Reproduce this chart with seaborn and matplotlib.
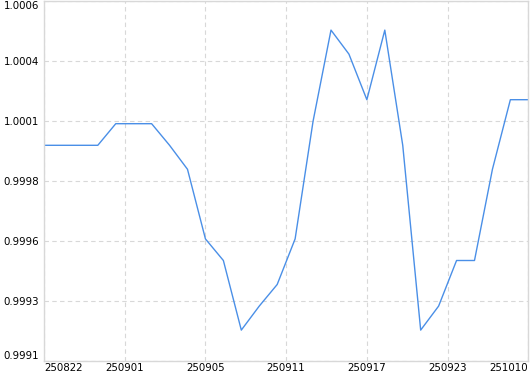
import numpy as np
import pandas as pd
import matplotlib
matplotlib.use("Agg")
import matplotlib.pyplot as plt
import seaborn as sns

values = [1.00000, 1.00000, 1.00000, 1.00000, 1.00009, 1.00009, 1.00009, 1.00000,
          0.99990, 0.99961, 0.99952, 0.99923, 0.99933, 0.99942, 0.99961, 1.00010,
          1.00048, 1.00038, 1.00019, 1.00048, 1.00000, 0.99923, 0.99933, 0.99952,
          0.99952, 0.99990, 1.00019, 1.00019]
x_labels = ["250822", "250901", "250905", "250911", "250917", "250923", "251010"]
y_ticks = [0.99910, 0.99935, 0.99960, 0.99985, 1.00010, 1.00035, 1.00060]
y_labels = ["0.9991", "0.9993", "0.9996", "0.9998", "1.0001", "1.0004", "1.0006"]

df = pd.DataFrame({"idx": np.arange(len(values)), "value": values})

sns.set_theme(style="white")
plt.rcParams['font.family'] = ['DejaVu Sans']

fig = plt.figure(figsize=(5.3, 3.74), dpi=100)
ax = fig.add_axes([44 / 530, 1 - 361.3 / 374, (528.3 - 44) / 530, (361.3 - 1.3) / 374])

sns.lineplot(data=df, x="idx", y="value", ax=ax, color="#4a8fe7", linewidth=1.0)

n = len(values)
ax.set_xlim(0, n - 1)
ax.set_ylim(y_ticks[0], y_ticks[-1])
ax.set_xticks(np.linspace(0, n - 1, len(x_labels)))
ax.set_xticklabels(x_labels)
ax.set_yticks(y_ticks)
ax.set_yticklabels(y_labels)
ax.set_xlabel("")
ax.set_ylabel("")

ax.grid(True, color="#d8d8d8", linestyle=(0, (4, 3)), linewidth=0.8)
for s in ax.spines.values():
    s.set_color("#d8d8d8")
    s.set_linewidth(1.0)
ax.tick_params(axis="both", length=0, labelsize=7.4, colors="#000000")
ax.tick_params(axis="x", pad=1)
ax.tick_params(axis="y", pad=3.5)
tl = ax.get_xticklabels()
tl[0].set_ha("left")
tl[-1].set_ha("right")
yl = ax.get_yticklabels()
yl[0].set_va("bottom")
yl[-1].set_va("top")

fig.savefig("out.png", dpi=100, facecolor="white")
